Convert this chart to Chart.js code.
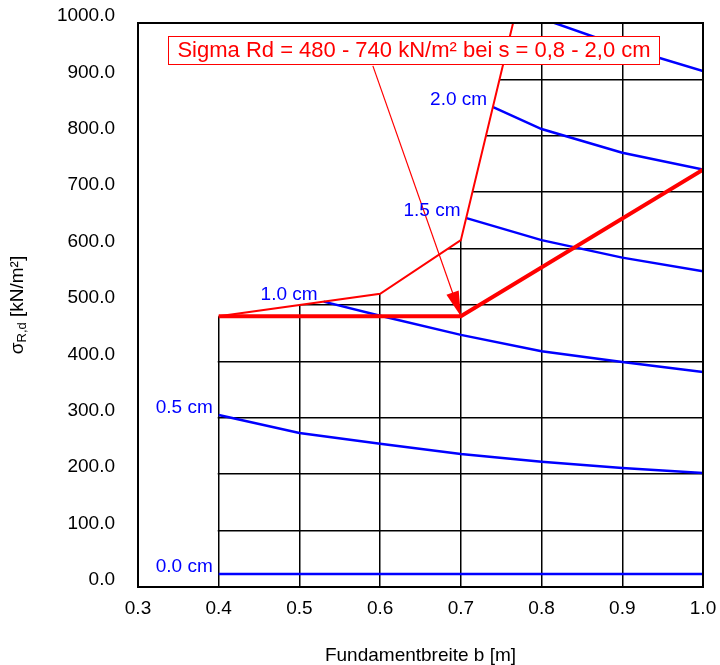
<!DOCTYPE html>
<html>
<head>
<meta charset="UTF-8">
<title>Sohlwiderstand</title>
<script src="https://cdn.jsdelivr.net/npm/chart.js@4.4.1/dist/chart.umd.min.js"></script>
<style>
  body { margin: 0; background: #fff; }
  #box { width: 720px; height: 665px; }
</style>
</head>
<body>
<div id="box"><canvas id="chart"></canvas></div>
<script>
// Setzungslinien: Fundamentbreite b [m] -> sigma R,d [kN/m²]
const b00 = [0.4, 0.5, 0.6, 0.7, 0.8, 0.9, 1.0];
const sig00 = [23, 23, 23, 23, 23, 23, 23];
const b05 = [0.4, 0.5, 0.6, 0.7, 0.8, 0.9, 1.0];
const sig05 = [305, 273, 254, 236, 222, 211, 202];
const b10 = [0.53, 0.6, 0.7, 0.8, 0.9, 1.0];
const sig10 = [506, 481, 447, 418, 399, 381];
const b15 = [0.707, 0.8, 0.9, 1.0];
const sig15 = [654, 615, 584, 560];
const b20 = [0.74, 0.8, 0.9, 1.0];
const sig20 = [851, 812, 770, 740];
const b25 = [0.8, 0.9, 1.0];
const sig25 = [1008, 958, 915];
const kurvenNamen = ['0.0 cm', '0.5 cm', '1.0 cm', '1.5 cm', '2.0 cm', ''];

// Grenzlinie (oben) und gewaehlter Bemessungswert
const bGrenze = [0.4, 0.6, 0.7, 0.8];
const sigGrenze = [480, 520, 615, 1210];
const bRd = [0.4, 0.7, 1.0];
const sigRd = [480, 480, 740];

// Hinweispfeil vom Textfeld zum Knick
const bPfeil = [0.591, 0.7];
const sigPfeil = [924, 480];
const hinweis = 'Sigma Rd = 480 - 740 kN/m² bei s = 0,8 - 2,0 cm';

const xTicks = [0.3, 0.4, 0.5, 0.6, 0.7, 0.8, 0.9, 1.0];

const FONT = "'Liberation Sans', Arial, sans-serif";
const pts = (b, s) => b.map((v, i) => ({ x: v, y: s[i] }));

const kurven = [[b00, sig00], [b05, sig05], [b10, sig10], [b15, sig15], [b20, sig20], [b25, sig25]];

const datasets = kurven.map(([b, s], i) => ({
  label: kurvenNamen[i],
  data: pts(b, s),
  borderColor: '#0000ff',
  borderWidth: 2.5,
  pointRadius: 0,
  order: 3
}));
datasets.push({
  label: 'Grenze',
  data: pts(bGrenze, sigGrenze),
  borderColor: '#ff0000',
  borderWidth: 2,
  pointRadius: 0,
  order: 2
});
datasets.push({
  label: 'Rd',
  data: pts(bRd, sigRd),
  borderColor: '#ff0000',
  borderWidth: 4,
  pointRadius: 0,
  order: 1
});
datasets.push({
  label: 'Pfeil',
  data: pts(bPfeil, sigPfeil),
  borderColor: '#ff0000',
  borderWidth: 1.2,
  pointRadius: 0,
  order: 0
});

// weisse Flaeche ueber der Grenzlinie und links von b = 0.4 (kein Raster dort)
const maske = {
  id: 'maske',
  beforeDatasetsDraw(chart) {
    const { ctx, chartArea: a, scales: { x, y } } = chart;
    const x0 = x.getPixelForValue(bGrenze[0]);
    ctx.save();
    ctx.beginPath();
    ctx.rect(a.left, a.top, a.width, a.height);
    ctx.clip();
    ctx.beginPath();
    ctx.moveTo(a.left - 2, a.bottom);
    ctx.lineTo(x0 - 1, a.bottom);
    ctx.lineTo(x0 - 1, y.getPixelForValue(sigGrenze[0]));
    bGrenze.forEach((b, i) => ctx.lineTo(x.getPixelForValue(b), y.getPixelForValue(sigGrenze[i])));
    ctx.lineTo(x.getPixelForValue(bGrenze[bGrenze.length - 1]), a.top - 2);
    ctx.lineTo(a.left - 2, a.top - 2);
    ctx.closePath();
    ctx.fillStyle = '#fff';
    ctx.fill();
    ctx.restore();
  }
};

const beschriftung = {
  id: 'beschriftung',
  afterDatasetsDraw(chart) {
    const { ctx, chartArea: a, scales: { x, y } } = chart;

    // Pfeilspitze
    const x1 = x.getPixelForValue(bPfeil[0]), y1 = y.getPixelForValue(sigPfeil[0]);
    const x2 = x.getPixelForValue(bPfeil[1]), y2 = y.getPixelForValue(sigPfeil[1]);
    ctx.save();
    ctx.translate(x2, y2);
    ctx.rotate(Math.atan2(y2 - y1, x2 - x1));
    ctx.beginPath();
    ctx.moveTo(0, 0);
    ctx.lineTo(-25, -6.5);
    ctx.lineTo(-25, 6.5);
    ctx.closePath();
    ctx.fillStyle = '#ff0000';
    ctx.fill();
    ctx.restore();

    // Rahmen
    ctx.save();
    ctx.strokeStyle = '#000';
    ctx.lineWidth = 2;
    ctx.strokeRect(a.left, a.top, a.right - a.left, a.bottom - a.top);
    ctx.restore();

    // Kurvenbeschriftung links oberhalb des Startpunktes
    ctx.save();
    ctx.font = '19px ' + FONT;
    ctx.fillStyle = '#0000ff';
    ctx.textAlign = 'right';
    ctx.textBaseline = 'middle';
    kurvenNamen.forEach((t, i) => {
      if (!t) return;
      const p = chart.getDatasetMeta(i).data[0];
      ctx.fillText(t, p.x - 6, p.y - 7);
    });
    ctx.restore();

    // Textfeld
    ctx.save();
    ctx.font = '22px ' + FONT;
    const w = ctx.measureText(hinweis).width;
    const cx = x.getPixelForValue(0.642), cy = y.getPixelForValue(952);
    ctx.fillStyle = '#fff';
    ctx.fillRect(cx - w / 2 - 9, cy - 14, w + 18, 28);
    ctx.strokeStyle = '#ff0000';
    ctx.lineWidth = 1;
    ctx.strokeRect(Math.round(cx - w / 2 - 9) + 0.5, Math.round(cy - 14) + 0.5, Math.round(w + 18), 28);
    ctx.fillStyle = '#ff0000';
    ctx.textAlign = 'center';
    ctx.textBaseline = 'middle';
    ctx.fillText(hinweis, cx, cy + 1);
    ctx.restore();

    // y-Achsentitel mit Index
    ctx.save();
    ctx.translate(18, (a.top + a.bottom) / 2);
    ctx.rotate(-Math.PI / 2);
    ctx.fillStyle = '#000';
    ctx.textBaseline = 'middle';
    ctx.textAlign = 'left';
    const gross = '19px ' + FONT, klein = '13px ' + FONT;
    ctx.font = gross; const w1 = ctx.measureText('σ').width;
    ctx.font = klein; const w2 = ctx.measureText('R,d').width;
    ctx.font = gross; const w3 = ctx.measureText(' [kN/m²]').width;
    let px = -(w1 + w2 + w3) / 2;
    ctx.font = gross; ctx.fillText('σ', px, 0); px += w1;
    ctx.font = klein; ctx.fillText('R,d', px, 4); px += w2;
    ctx.font = gross; ctx.fillText(' [kN/m²]', px, 0);
    ctx.restore();
  }
};

new Chart(document.getElementById('chart'), {
  type: 'line',
  data: { datasets },
  options: {
    responsive: true,
    maintainAspectRatio: false,
    animation: false,
    layout: { padding: { top: 23, right: 17, left: 0, bottom: 0 } },
    plugins: { legend: { display: false }, tooltip: { enabled: false } },
    elements: { line: { tension: 0 } },
    scales: {
      x: {
        type: 'linear',
        min: 0.3,
        max: 1.0,
        afterBuildTicks: (s) => { s.ticks = xTicks.map(v => ({ value: v })); },
        afterFit: (s) => { s.height = 78; s.paddingLeft = 0; s.paddingRight = 0; },
        grid: { color: '#000', lineWidth: 1.5, drawTicks: false },
        border: { display: false },
        ticks: {
          padding: 10,
          color: '#000',
          font: { family: FONT, size: 19 },
          maxRotation: 0,
          autoSkip: false,
          callback: (v) => v.toFixed(1)
        },
        title: {
          display: true,
          text: 'Fundamentbreite b [m]',
          color: '#000',
          font: { family: FONT, size: 19, lineHeight: 1 },
          padding: { top: 0, bottom: 0 }
        }
      },
      y: {
        min: 0,
        max: 1000,
        afterFit: (s) => { s.width = 138; s.paddingTop = 0; s.paddingBottom = 0; },
        grid: { color: '#000', lineWidth: 1.5, drawTicks: false },
        border: { display: false },
        ticks: {
          stepSize: 100,
          padding: 23,
          labelOffset: -7,
          color: '#000',
          font: { family: FONT, size: 19 },
          callback: (v) => v.toFixed(1)
        }
      }
    }
  },
  plugins: [maske, beschriftung]
});
</script>
</body>
</html>
